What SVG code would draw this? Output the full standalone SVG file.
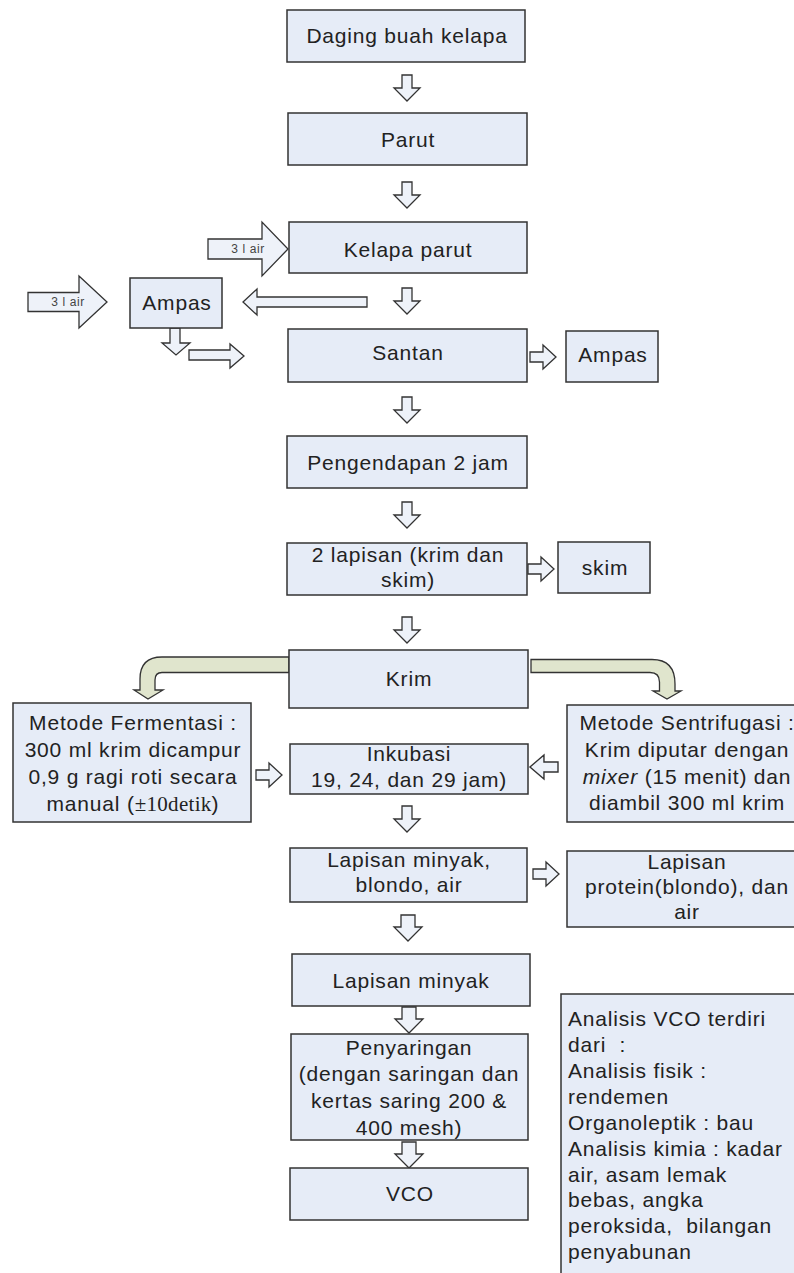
<svg xmlns="http://www.w3.org/2000/svg" xmlns:xlink="http://www.w3.org/1999/xlink" width="794" height="1273" viewBox="0 0 794 1273">
<style>
.box{fill:#e6ecf7;stroke:#333;stroke-width:1.5}
.arr{fill:#eef2f9;stroke:#333;stroke-width:1.3;stroke-linejoin:miter}
.carr{fill:#e0e5cd;stroke:#333;stroke-width:1.3}
text{font-family:"Liberation Sans",Arial,Helvetica,sans-serif;font-size:21px;fill:#222;letter-spacing:0.8px}
.c{text-anchor:middle}
.sm{font-size:12px;fill:#444;letter-spacing:0.6px;text-anchor:middle}
</style>
<defs>
<path id="dn" d="M-5,0 H5 V13 H13 L0,26 L-13,13 H-5 Z"/>
<path id="dn2" d="M-7,0 H7 V12 H14 L0,26 L-14,12 H-7 Z"/>
<path id="rt" d="M0,-5 H13 V-12 L26,0 L13,12 V5 H0 Z"/>
</defs>
<rect width="794" height="1273" fill="#ffffff"/>

<g id="connectors">
<use xlink:href="#dn" class="arr" x="407" y="75"/>
<use xlink:href="#dn" class="arr" x="407" y="182"/>
<use xlink:href="#dn" class="arr" x="407" y="288"/>
<use xlink:href="#dn" class="arr" x="407" y="397"/>
<use xlink:href="#dn" class="arr" x="407" y="502"/>
<use xlink:href="#dn" class="arr" x="407" y="617"/>
<use xlink:href="#dn" class="arr" x="407" y="806"/>
<use xlink:href="#dn2" class="arr" x="408" y="915"/>
<use xlink:href="#dn2" class="arr" x="409" y="1007"/>
<use xlink:href="#dn2" class="arr" x="409" y="1142"/>
<use xlink:href="#rt" class="arr" x="530" y="357"/>
<use xlink:href="#rt" class="arr" x="528" y="569"/>
<use xlink:href="#rt" class="arr" x="256" y="775"/>
<use xlink:href="#rt" class="arr" x="533" y="874"/>
<use xlink:href="#rt" class="arr" transform="translate(558,767) scale(-1.08,1)"/>
<path class="arr" d="M208,239 H262 V222 L288,249 L262,276 V259 H208 Z"/>
<path class="arr" d="M28,292.5 H79 V276 L107,302 L79,328 V311.5 H28 Z"/>
<path class="arr" d="M367,297 V307 H257 V315 L243,302 L257,289 V297 Z"/>
<path class="arr" d="M170,328 H180 V343 H190 L176,355 L162,343 H170 Z"/>
<path class="arr" d="M189,350 H230 V344 L244,356 L230,368 V360 H189 Z"/>
<path class="carr" d="M289,657 L162,657 Q140,657 140,679 L140,690 L134,690 L148,699 L163,690 L155,690 L155,680 Q155,672.5 162,672.5 L289,672.5 Z"/>
<path class="carr" d="M531,659.5 L652,659.5 Q675,659.5 675,684 L675,691 L681,691 L667,699 L653,691 L659.5,691 L659.5,682 Q659.5,672.5 650,672.5 L531,672.5 Z"/>
<text class="sm" x="248" y="253">3 l air</text>
<text class="sm" x="68" y="306">3 l air</text>
</g>

<g id="n1"><rect class="box" x="287" y="10" width="238" height="52"/><text class="c" x="407" y="43">Daging buah kelapa</text></g>
<g id="n2"><rect class="box" x="288" y="113" width="239" height="52"/><text class="c" x="408" y="147">Parut</text></g>
<g id="n3"><rect class="box" x="289" y="222" width="238" height="51"/><text class="c" x="408" y="257">Kelapa parut</text></g>
<g id="n4"><rect class="box" x="130" y="278" width="92" height="50"/><text class="c" x="177" y="310">Ampas</text></g>
<g id="n5"><rect class="box" x="288" y="329" width="239" height="53"/><text class="c" x="408" y="360">Santan</text></g>
<g id="n6"><rect class="box" x="566" y="331" width="92" height="51"/><text class="c" x="613" y="362">Ampas</text></g>
<g id="n7"><rect class="box" x="287" y="436" width="240" height="52"/><text class="c" x="408" y="470">Pengendapan 2 jam</text></g>
<g id="n8"><rect class="box" x="287" y="543" width="240" height="52"/><text class="c" x="408" y="562">2 lapisan (krim dan</text><text class="c" x="408" y="587">skim)</text></g>
<g id="n9"><rect class="box" x="558" y="542" width="92" height="51"/><text class="c" x="605" y="575">skim</text></g>
<g id="n10"><rect class="box" x="289" y="650" width="239" height="58"/><text class="c" x="409" y="686">Krim</text></g>
<g id="n11"><rect class="box" x="13" y="703" width="238" height="119"/>
<text class="c" x="133" y="730">Metode Fermentasi :</text>
<text class="c" x="133" y="757">300 ml krim dicampur</text>
<text class="c" x="133" y="784">0,9 g ragi roti secara</text>
<text class="c" x="133" y="811">manual (<tspan style="font-family:'Liberation Serif','Times New Roman',serif;letter-spacing:0.3px">±10detik</tspan>)</text></g>
<g id="n12"><rect class="box" x="290" y="744" width="238" height="50"/><text class="c" x="409" y="761">Inkubasi</text><text class="c" x="409" y="787">19, 24, dan 29 jam)</text></g>
<g id="n13"><rect class="box" x="567" y="705" width="240" height="117"/>
<text class="c" x="687" y="730">Metode Sentrifugasi :</text>
<text class="c" x="687" y="757">Krim diputar dengan</text>
<text class="c" x="687" y="784"><tspan font-style="italic">mixer</tspan> (15 menit) dan</text>
<text class="c" x="687" y="810">diambil 300 ml krim</text></g>
<g id="n14"><rect class="box" x="290" y="848" width="237" height="54"/><text class="c" x="409" y="867">Lapisan minyak,</text><text class="c" x="409" y="892">blondo, air</text></g>
<g id="n15"><rect class="box" x="567" y="851" width="240" height="76"/><text class="c" x="687" y="869">Lapisan</text><text class="c" x="687" y="894">protein(blondo), dan</text><text class="c" x="687" y="919">air</text></g>
<g id="n16"><rect class="box" x="292" y="954" width="238" height="52"/><text class="c" x="411" y="988">Lapisan minyak</text></g>
<g id="n17"><rect class="box" x="291" y="1034" width="237" height="106"/>
<text class="c" x="409" y="1055">Penyaringan</text>
<text class="c" x="409" y="1081">(dengan saringan dan</text>
<text class="c" x="409" y="1108">kertas saring 200 &amp;</text>
<text class="c" x="409" y="1135">400 mesh)</text></g>
<g id="n18"><rect class="box" x="290" y="1168" width="238" height="52"/><text class="c" x="410" y="1201">VCO</text></g>
<g id="n19"><rect class="box" x="561" y="994" width="245" height="290"/>
<text x="568" y="1026">Analisis VCO terdiri</text>
<text x="568" y="1052" xml:space="preserve">dari  :</text>
<text x="568" y="1078">Analisis fisik :</text>
<text x="568" y="1104">rendemen</text>
<text x="568" y="1130">Organoleptik : bau</text>
<text x="568" y="1156">Analisis kimia : kadar</text>
<text x="568" y="1182">air, asam lemak</text>
<text x="568" y="1207">bebas, angka</text>
<text x="568" y="1233" xml:space="preserve">peroksida,  bilangan</text>
<text x="568" y="1259">penyabunan</text></g>
</svg>
